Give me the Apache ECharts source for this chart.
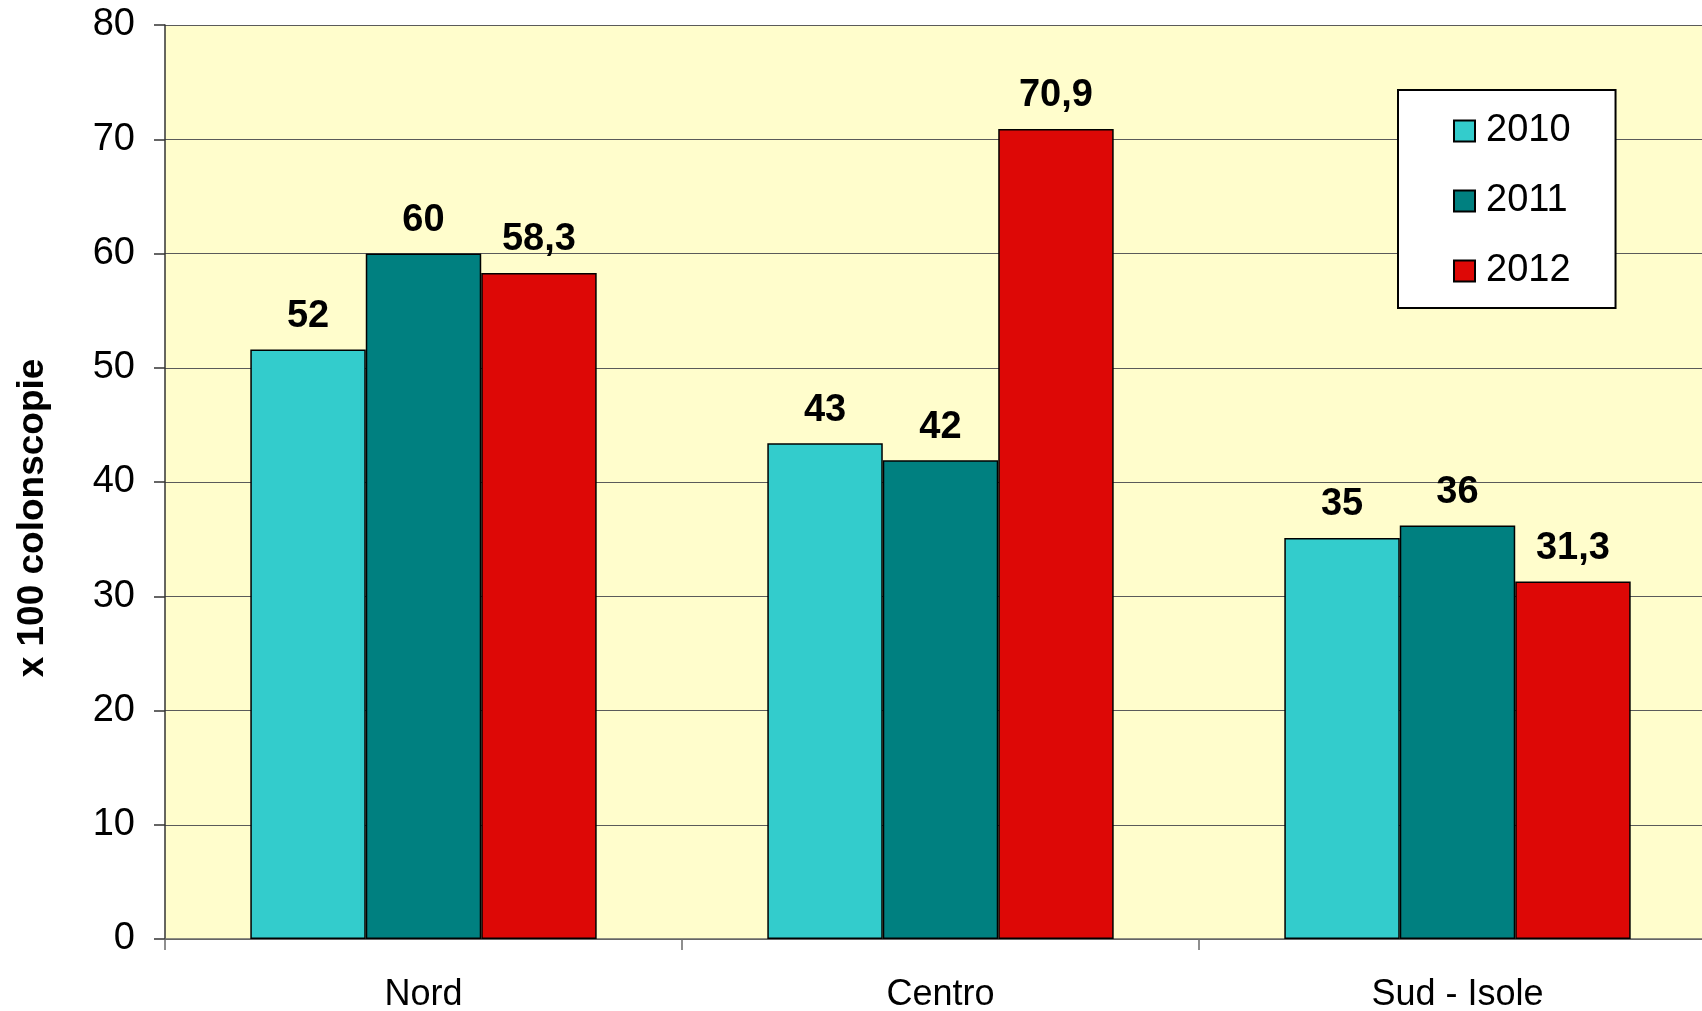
<!DOCTYPE html>
<html>
<head>
<meta charset="utf-8">
<script src="https://cdn.jsdelivr.net/npm/echarts@6/dist/echarts.min.js"></script>
<style>
html,body{margin:0;padding:0;background:#fff;}
#c{width:1702px;height:1011px;}
</style>
</head>
<body>
<div id="c"></div>
<script>
const categories = ['Nord', 'Centro', 'Sud - Isole'];
const years = ['2010', '2011', '2012'];
const values2010 = [51.6, 43.4, 35.1];
const values2011 = [60.0, 41.9, 36.2];
const values2012 = [58.3, 70.9, 31.3];
const labels2010 = ['52', '43', '35'];
const labels2011 = ['60', '42', '36'];
const labels2012 = ['58,3', '70,9', '31,3'];
const yTicks = [0, 10, 20, 30, 40, 50, 60, 70, 80];
const yAxisTitle = 'x 100 colonscopie';

const colors = ['#33CCCC', '#008080', '#DD0806'];
const FONT = '"Liberation Sans", Arial, sans-serif';

function mkSeries(name, data, labels, color) {
  return {
    name: name,
    type: 'bar',
    data: data,
    barGap: '0%',
    barCategoryGap: '33%',
    itemStyle: { color: color, borderColor: '#000', borderWidth: 1.5 },
    label: {
      show: true,
      position: 'top',
      distance: 14,
      fontFamily: FONT,
      fontSize: 38,
      fontWeight: 'bold',
      color: '#000',
      formatter: p => labels[p.dataIndex]
    }
  };
}

const chart = echarts.init(document.getElementById('c'), null, { renderer: 'canvas' });
chart.setOption({
  animation: false,
  backgroundColor: '#fff',
  grid: {
    left: 165, top: 25, bottom: 72, right: -14,
    containLabel: false,
    outerBoundsMode: 'none',
    show: true, backgroundColor: '#FFFDCC', borderWidth: 0
  },
  legend: {
    orient: 'vertical',
    left: 1398, top: 90,
    data: years,
    icon: 'rect',
    itemWidth: 21, itemHeight: 21,
    itemGap: 32,
    padding: [22, 45, 18, 55],
    backgroundColor: '#fff',
    borderColor: '#000',
    borderWidth: 2,
    textStyle: { fontFamily: FONT, fontSize: 38, color: '#000', padding: [0, 0, 0, 6] }
  },
  graphic: [{
    type: 'text',
    x: 33, y: 518,
    rotation: Math.PI / 2,
    style: {
      text: yAxisTitle,
      font: 'bold 37px "Liberation Sans", Arial, sans-serif',
      fill: '#000',
      align: 'center',
      verticalAlign: 'middle'
    }
  }],
  xAxis: {
    type: 'category',
    data: categories,
    axisLine: { show: true, lineStyle: { color: '#6a6a6a', width: 1.5 } },
    axisTick: { show: true, length: 11, lineStyle: { color: '#6a6a6a', width: 1.5 } },
    axisLabel: { fontFamily: FONT, fontSize: 36, color: '#000', margin: 38 }
  },
  yAxis: {
    type: 'value',
    min: yTicks[0], max: yTicks[yTicks.length - 1], interval: 10,
    axisLine: { show: true, lineStyle: { color: '#333', width: 1.5 } },
    axisTick: { show: true, length: 11, lineStyle: { color: '#333', width: 1.5 } },
    splitLine: { show: true, lineStyle: { color: '#5a5a5a', width: 1.2 } },
    axisLabel: { fontFamily: FONT, fontSize: 38, color: '#000', margin: 30 }
  },
  series: [
    mkSeries(years[0], values2010, labels2010, colors[0]),
    mkSeries(years[1], values2011, labels2011, colors[1]),
    mkSeries(years[2], values2012, labels2012, colors[2])
  ]
});
</script>
</body>
</html>
